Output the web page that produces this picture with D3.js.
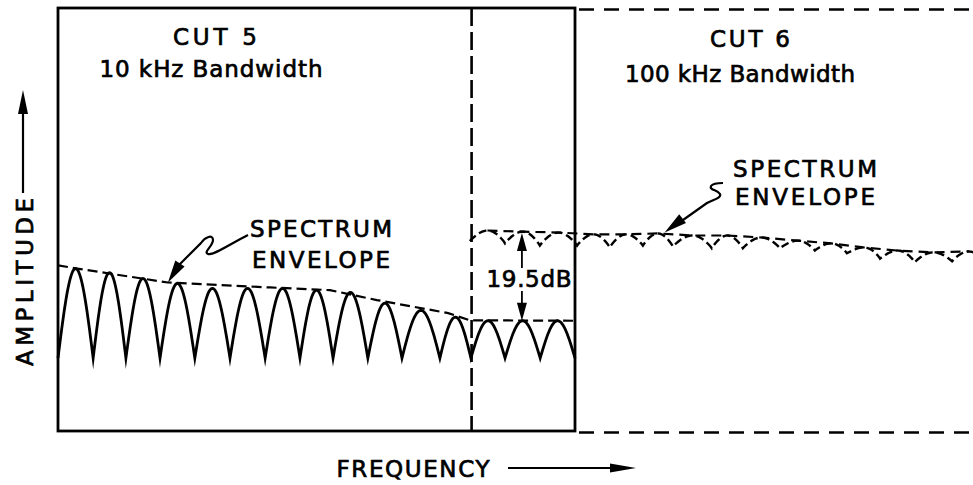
<!DOCTYPE html>
<html>
<head>
<meta charset="utf-8">
<script src="https://cdn.jsdelivr.net/npm/d3@7/dist/d3.min.js"></script>
<style>
  html, body { margin: 0; padding: 0; background: #fff; }
  svg { display: block; }
  text { font-family: "DejaVu Sans", sans-serif; fill: #000; stroke: #000; stroke-width: 0.7px; }
</style>
</head>
<body>
<div id="chart"></div>
<script>
// DATA
// frequency in lobe widths (null spacing of the 10 kHz cut), amplitude in dB
// relative to the 100 kHz envelope
const cutEdges = [0, 12, 15]           // cut 5 box start, cut 6 start, cut 5 box end
const ampRange = [-44, 50]
const lowerNulls = [0, 1.02, 1.97, 2.96, 3.97, 4.99, 6.01, 7.02, 7.98, 8.99, 9.98, 11.08, 11.98, 12.97, 13.99, 15]
const lowerPeaks = [-7.9, -8.8, -10.1, -11.2, -12.3, -12.3, -12.3, -12.7, -13.2, -15.6, -17.2, -18.7, -19.5, -19.5, -19.5]
const lowerFloor = -27.8
const lowerEnvelope = [[0, -7.2], [0.55, -7.9], [3.19, -11.0], [6.15, -12.1], [7.89, -12.7], [9.25, -14.9], [11.32, -17.8], [11.95, -19.4], [15, -19.5]]
const upperDips = [[11.95, -1.8], [12.97, -2.3], [13.98, -2.8], [15.06, -2.8], [16.01, -3.2], [16.97, -2.8], [17.84, -3.0], [18.97, -3.4], [19.87, -3.4], [20.95, -3.4], [21.96, -3.9], [22.89, -4.5], [23.85, -5.7], [24.86, -6.5], [25.94, -6.3], [26.9, -6.5]]
const upperPeaks = [0.55, 0.3, 0.1, -0.3, -0.3, -0.1, -0.55, -0.55, -1.0, -1.7, -2.3, -3.2, -3.9, -4.3, -4.1]
const gapLevels = [0, -19.5]
const gapFreq = 13.46

// SIZES
const W = 973
const H = 485

const x = d3.scaleLinear().domain([cutEdges[0], cutEdges[2]]).range([58, 575])
const y = d3.scaleLinear().domain(ampRange).range([431, 8])

const svg = d3.select('#chart').append('svg')
  .attr('width', W)
  .attr('height', H)

svg.append('rect').attr('width', W).attr('height', H).attr('fill', '#fff')

const line = d3.line().x(d => x(d[0])).y(d => y(d[1]))

// one arch between two nulls/dips, rounded top and sharp cusp at the ends
const lobe = (f0, f1, b0, b1, peak, k) => d3.range(41).map(i => {
  const t = i / 40
  const base = b0 + (b1 - b0) * t
  return [f0 + (f1 - f0) * t, base + (peak - base) * Math.pow(Math.sin(Math.PI * t), k)]
})

const arrowHead = (tx, ty, bx, by, hw) => {
  const dx = tx - bx
  const dy = ty - by
  const len = Math.hypot(dx, dy)
  const px = -dy / len * hw
  const py = dx / len * hw
  return `M${tx},${ty}L${bx + px},${by + py}L${bx - px},${by - py}Z`
}

// FRAME
svg.append('rect')
  .attr('x', x(cutEdges[0]))
  .attr('y', y(ampRange[1]))
  .attr('width', x(cutEdges[2]) - x(cutEdges[0]))
  .attr('height', y(ampRange[0]) - y(ampRange[1]))
  .attr('fill', 'none')
  .attr('stroke', '#000')
  .attr('stroke-width', 2.8)

svg.append('line')
  .attr('x1', x(cutEdges[1])).attr('x2', x(cutEdges[1]))
  .attr('y1', y(ampRange[1])).attr('y2', y(ampRange[0]))
  .attr('stroke', '#000')
  .attr('stroke-width', 2.6)
  .attr('stroke-dasharray', '18,6')

svg.selectAll('line.cut6')
  .data(ampRange)
  .join('line')
  .attr('class', 'cut6')
  .attr('x1', x(cutEdges[2]) + 4).attr('x2', W)
  .attr('y1', d => y(d) + 1.5).attr('y2', d => y(d) + 1.5)
  .attr('stroke', '#000')
  .attr('stroke-width', 2.6)
  .attr('stroke-dasharray', '15,10')

// LOWER LOBES (10 kHz)
const lowerPts = []
lowerPeaks.forEach((p, i) => {
  const pts = lobe(lowerNulls[i], lowerNulls[i + 1], lowerFloor, lowerFloor, p, 1.0)
  lowerPts.push(...(i === 0 ? pts : pts.slice(1)))
})
svg.append('path')
  .attr('d', line(lowerPts))
  .attr('fill', 'none')
  .attr('stroke', '#000')
  .attr('stroke-width', 2.8)
  .attr('stroke-linejoin', 'miter')
  .attr('stroke-miterlimit', 20)

svg.append('path')
  .attr('d', line(lowerEnvelope))
  .attr('fill', 'none')
  .attr('stroke', '#000')
  .attr('stroke-width', 2.2)
  .attr('stroke-dasharray', '10,5')

// UPPER SCALLOPS (100 kHz)
const upperPts = []
upperPeaks.forEach((p, i) => {
  const pts = lobe(upperDips[i][0], upperDips[i + 1][0], upperDips[i][1], upperDips[i + 1][1], p, 0.9)
  upperPts.push(...(i === 0 ? pts : pts.slice(1)))
})
svg.append('path')
  .attr('d', line(upperPts))
  .attr('fill', 'none')
  .attr('stroke', '#000')
  .attr('stroke-width', 2.4)
  .attr('stroke-dasharray', '8,4')

const upperEnvelope = upperPeaks.map((p, i) => [(upperDips[i][0] + upperDips[i + 1][0]) / 2, p])
svg.append('path')
  .attr('d', line(upperEnvelope))
  .attr('fill', 'none')
  .attr('stroke', '#000')
  .attr('stroke-width', 2.2)
  .attr('stroke-dasharray', '10,6')

// 19.5 dB GAP
const gx = x(gapFreq)
const gTop = y(gapLevels[0])
const gBot = y(gapLevels[1])
svg.append('path').attr('d', arrowHead(gx, gTop, gx, gTop + 18, 5)).attr('fill', '#000')
svg.append('path').attr('d', arrowHead(gx, gBot, gx, gBot - 18, 5)).attr('fill', '#000')
svg.selectAll('line.gap')
  .data([[gTop + 16, 268], [291, gBot - 16]])
  .join('line')
  .attr('class', 'gap')
  .attr('x1', gx).attr('x2', gx)
  .attr('y1', d => d[0]).attr('y2', d => d[1])
  .attr('stroke', '#000')
  .attr('stroke-width', 1.8)

// LABELS
const labels = [
  { text: 'CUT 5', x: 215, y: 45, w: 84 },
  { text: '10 kHz Bandwidth', x: 211, y: 77, w: 223 },
  { text: 'CUT 6', x: 750, y: 47, w: 80 },
  { text: '100 kHz Bandwidth', x: 740, y: 82, w: 230 },
  { text: 'SPECTRUM', x: 321, y: 237, w: 142 },
  { text: 'ENVELOPE', x: 321, y: 268, w: 138 },
  { text: 'SPECTRUM', x: 805, y: 177, w: 144 },
  { text: 'ENVELOPE', x: 805, y: 205, w: 140 },
  { text: '19.5dB', x: 529, y: 287, w: 85 },
  { text: 'FREQUENCY', x: 413, y: 477, w: 153 },
]
svg.selectAll('text.lbl')
  .data(labels)
  .join('text')
  .attr('class', 'lbl')
  .attr('x', d => d.x)
  .attr('y', d => d.y)
  .attr('text-anchor', 'middle')
  .attr('font-size', 23)
  .attr('textLength', d => d.w)
  .attr('lengthAdjust', 'spacing')
  .text(d => d.text)

svg.append('text')
  .attr('transform', 'translate(33,282) rotate(-90)')
  .attr('text-anchor', 'middle')
  .attr('font-size', 23)
  .attr('textLength', 168)
  .attr('lengthAdjust', 'spacing')
  .text('AMPLITUDE')

// LEADERS
const lt = [x(3.19), y(-11.0)]
svg.append('path').attr('d', arrowHead(lt[0], lt[1], lt[0] + 12, lt[1] - 19, 5.5)).attr('fill', '#000')
svg.append('path')
  .attr('d', 'M179,265 L201,243 C205,237 213,234 213,240 C213,246 203,252 208,254 C213,256 230,244 248,235')
  .attr('fill', 'none').attr('stroke', '#000').attr('stroke-width', 2.2)

const rt = [x(17.6), y(0.1)]
svg.append('path').attr('d', arrowHead(rt[0], rt[1], rt[0] + 18, rt[1] - 14, 5.5)).attr('fill', '#000')
svg.append('path')
  .attr('d', 'M683,220 L707,203 C712,200 722,198 720,194 C718,190 709,190 711,186 C713,183 718,183 723,183')
  .attr('fill', 'none').attr('stroke', '#000').attr('stroke-width', 2.2)

// AXIS ARROWS
svg.append('line').attr('x1', 23).attr('x2', 23).attr('y1', 193).attr('y2', 110)
  .attr('stroke', '#000').attr('stroke-width', 2.2)
svg.append('path').attr('d', arrowHead(23, 90, 23, 114, 5)).attr('fill', '#000')

svg.append('line').attr('x1', 508).attr('x2', 614).attr('y1', 468).attr('y2', 468)
  .attr('stroke', '#000').attr('stroke-width', 2.2)
svg.append('path').attr('d', arrowHead(636, 468, 610, 468, 4.5)).attr('fill', '#000')
</script>
</body>
</html>
